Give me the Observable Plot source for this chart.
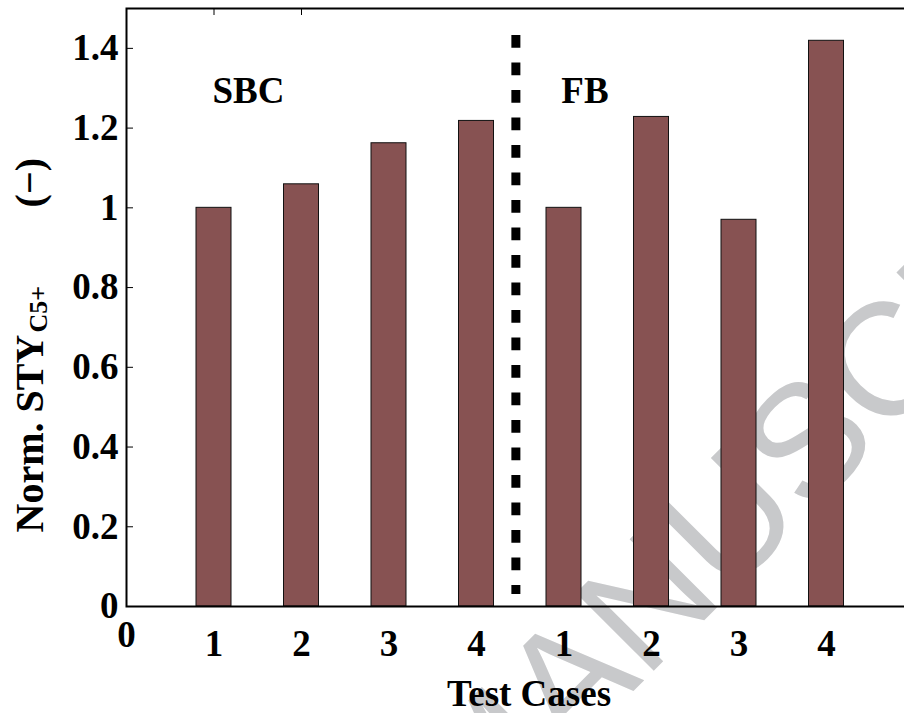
<!DOCTYPE html>
<html>
<head>
<meta charset="utf-8">
<script src="https://cdn.jsdelivr.net/npm/d3@7"></script>
<script src="https://cdn.jsdelivr.net/npm/@observablehq/plot@0.6"></script>
<style>
  html, body { margin: 0; padding: 0; background: #fff; overflow: hidden; width: 904px; height: 713px; }
  #chart { width: 920px; height: 713px; }
  #chart svg { display: block; max-width: none !important; width: 920px !important; height: 713px !important; }
</style>
</head>
<body>
<div id="chart"></div>
<script>
// ---- data ----
const caseLabels = ["1", "2", "3", "4", "1", "2", "3", "4"];
const groups = ["SBC", "SBC", "SBC", "SBC", "FB", "FB", "FB", "FB"];
const stySeries = [1.00, 1.059, 1.162, 1.218, 1.00, 1.228, 0.970, 1.419];
const yTickValues = [0, 0.2, 0.4, 0.6, 0.8, 1, 1.2, 1.4];
const xZeroTick = [0];
const topTicks = [1, 2];
const groupLabels = ["SBC", "FB"];
const dividerAt = [4.45];

const bars = stySeries.map((v, i) => ({pos: i + 1, value: v, label: caseLabels[i], group: groups[i]}));

const serif = "Liberation Serif, Times New Roman, serif";
const barFill = "#875252";

const chart = Plot.plot({
  width: 920,
  height: 713,
  marginLeft: 126,
  marginRight: 6.5,
  marginTop: 8,
  marginBottom: 107,
  style: {background: "#fff", fontFamily: serif},
  x: {type: "linear", domain: [0, 9], axis: null},
  y: {domain: [0, 1.5], axis: null},
  marks: [
    // watermark (behind everything)
    Plot.text(["MANUSCRIPT"], {
      x: 3.98, y: -0.61, text: d => d, rotate: -45, textAnchor: "start", lineAnchor: "bottom",
      fontSize: 160, fontFamily: "Liberation Sans, Arial, sans-serif", fill: "#c8c9cb"
    }),
    // bars
    Plot.rectY(bars, {
      x1: d => d.pos - 0.2, x2: d => d.pos + 0.2, y1: 0, y2: "value",
      fill: barFill, stroke: "#111", strokeWidth: 1
    }),
    // dashed divider
    Plot.ruleX(dividerAt, {x: d => d, y1: 1.432, y2: 0.03, stroke: "#000", strokeWidth: 9, strokeDasharray: "12.7,14.8"}),
    // frame
    Plot.frame({stroke: "#000", strokeWidth: 2}),
    // inward ticks
    Plot.ruleY(yTickValues.slice(1), {y: d => d, x1: 0, x2: 0.08, stroke: "#000", strokeWidth: 1}),
    Plot.ruleX(topTicks, {x: d => d, y1: 1.5, y2: 1.5 - 7 / 398.6, stroke: "#000", strokeWidth: 1}),
    // y axis labels
    Plot.axisY({ticks: yTickValues, tickSize: 0, tickPadding: 8, tickFormat: d => String(d),
      fontSize: 37, fontWeight: "bold", fontFamily: serif, label: null}),
    // x axis labels
    Plot.axisX({ticks: xZeroTick, tickSize: 0, tickPadding: 14.5, tickFormat: d => String(d),
      fontSize: 37, fontWeight: "bold", fontFamily: serif, label: null}),
    Plot.axisX({ticks: bars.map(d => d.pos), tickSize: 0, tickPadding: 23, tickFormat: p => caseLabels[p - 1],
      fontSize: 37, fontWeight: "bold", fontFamily: serif, label: null}),
    // x title
    Plot.text(["Test Cases"], {x: 4.6, frameAnchor: "bottom", lineAnchor: "bottom", dy: 99, text: d => d,
      fontSize: 37, fontWeight: "bold", fontFamily: serif, fill: "#000"}),
    // group labels
    Plot.text(groupLabels, {x: (d, i) => [1.394, 5.24][i], y: 1.264, text: d => d, lineAnchor: "bottom",
      fontSize: 37, fontWeight: "bold", fontFamily: serif, fill: "#000"}),
    // y title (rotated, with subscript)
    Plot.text(["Norm. STY"], {x: -0.96, y: 0.1857, text: d => d, rotate: -90, textAnchor: "start", lineAnchor: "bottom",
      fontSize: 40, fontWeight: "bold", fontFamily: serif, fill: "#000"}),
    Plot.text(["C5+"], {x: -0.903, y: 0.6874, text: d => d, rotate: -90, textAnchor: "start", lineAnchor: "bottom",
      fontSize: 26, fontWeight: "bold", fontFamily: serif, fill: "#000"}),
    Plot.text(["(\u2212)"], {x: -0.96, y: 1.001, text: d => d, rotate: -90, textAnchor: "start", lineAnchor: "bottom",
      fontSize: 40, fontWeight: "bold", fontFamily: serif, fill: "#000"})
  ]
});
document.getElementById("chart").appendChild(chart);
</script>
</body>
</html>
